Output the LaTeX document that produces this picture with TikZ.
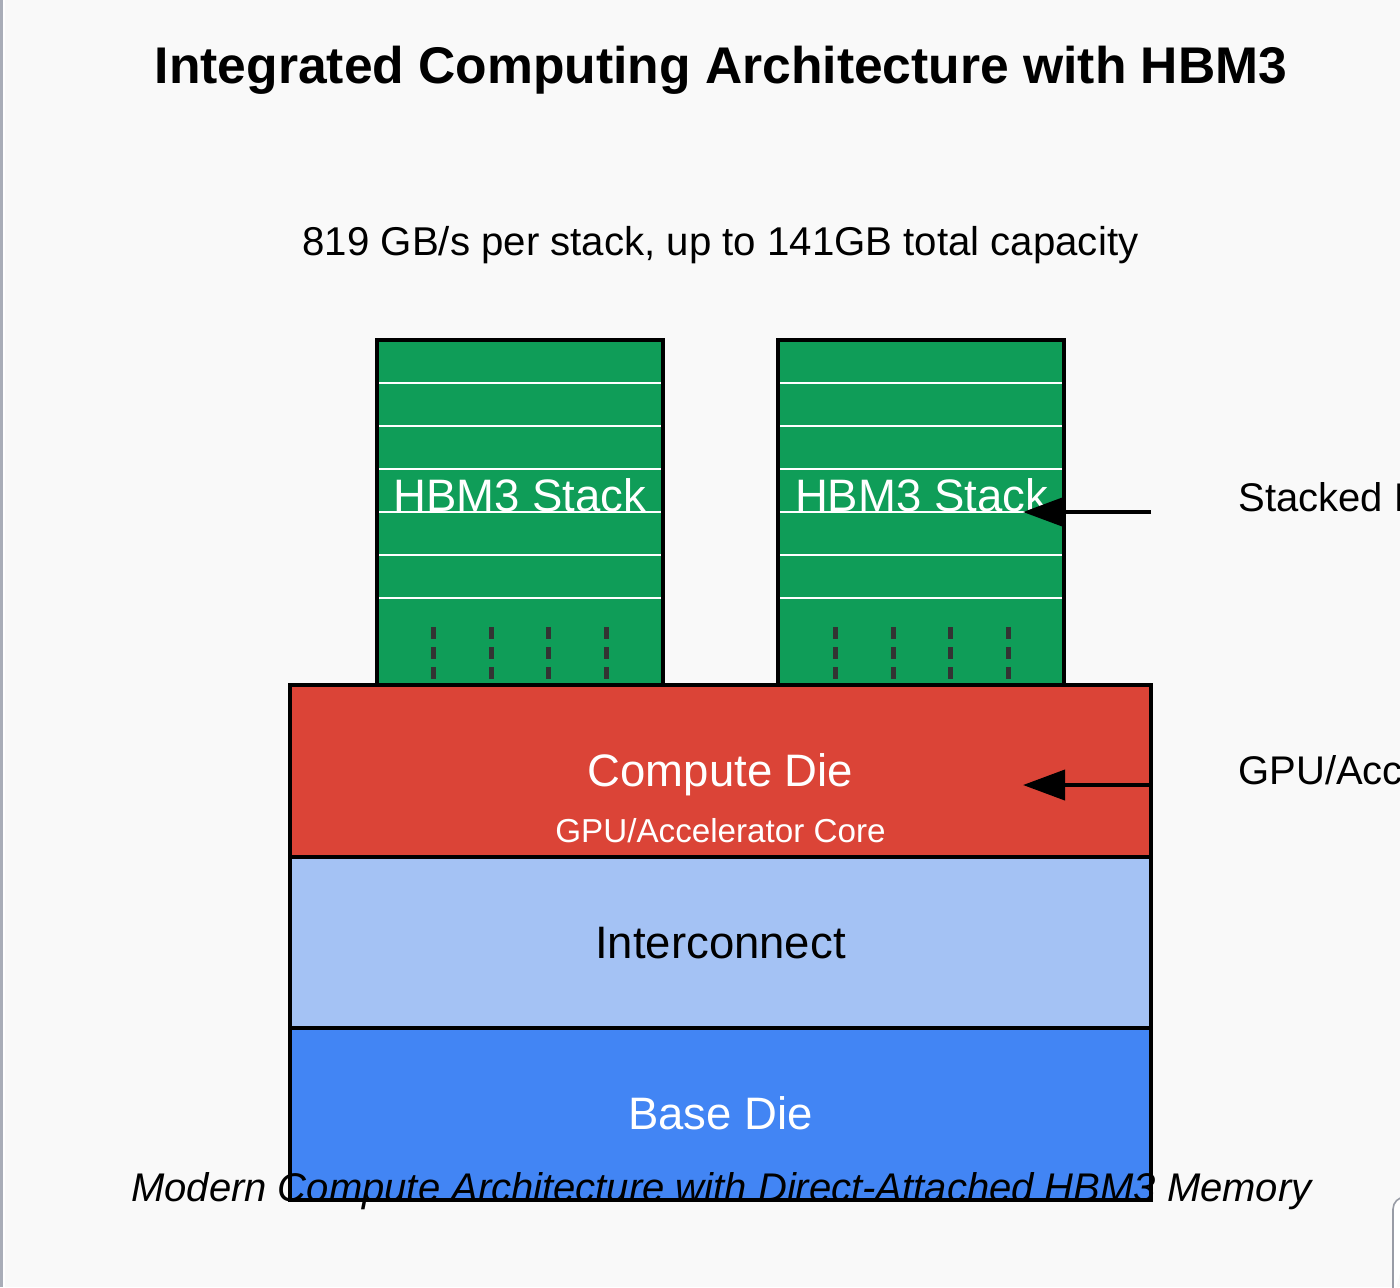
\documentclass[tikz,border=0pt]{standalone}
\usepackage{fontspec}
\setmainfont{Liberation Sans}
\usetikzlibrary{arrows.meta,calc}
\definecolor{bg}{HTML}{F9F9F9}
\definecolor{hgreen}{HTML}{0F9D58}
\definecolor{hred}{HTML}{DB4437}
\definecolor{lblue}{HTML}{A4C2F4}
\definecolor{dblue}{HTML}{4285F4}
\definecolor{dashgray}{HTML}{333333}
\definecolor{edgegray}{HTML}{A9ADB8}
\begin{document}
\begin{tikzpicture}[x=0.5pt,y=-0.5pt,
  stackbox/.style={draw=black,fill=hgreen,line width=2pt,inner sep=0pt,outer sep=0pt,anchor=north west,minimum width=143pt,minimum height=172.5pt},
  diebox/.style={draw=black,line width=2pt,inner sep=0pt,outer sep=0pt,anchor=north west,minimum width=430.5pt,minimum height=86pt},
  layerline/.style={draw=white,line width=1pt},
  tsv/.style={draw=dashgray,line width=2.5pt,dash pattern=on 6pt off 4pt},
  arr/.style={draw=black,line width=2pt,-{Triangle[length=21pt,width=15pt]}},
  bigtxt/.style={font=\fontsize{22.75pt}{26pt}\selectfont,anchor=base,inner sep=0pt},
  sidetxt/.style={font=\fontsize{20pt}{24pt}\selectfont,anchor=base west,inner sep=0pt}]
\useasboundingbox (0,0) rectangle (1400,1287);
\clip (0,0) rectangle (1400,1287);
\fill[bg] (0,0) rectangle (1400,1287);
\fill[edgegray] (0,0) rectangle (3,1287);
\fill[white] (3,0) rectangle (5,1287);
\draw[draw=edgegray!90!black,fill=white,line width=0.8pt,rounded corners=6pt] (1393,1300) -- (1393,1197) -- (1420,1197);

% title and subtitle
\node[font=\bfseries\fontsize{25.8pt}{30pt}\selectfont,anchor=base,inner sep=0pt] (title) at (721,83) {Integrated Computing Architecture with HBM3};
\node[font=\fontsize{20.1pt}{24pt}\selectfont,anchor=base,inner sep=0pt] (sub) at (720.5,255) {819 GB/s per stack, up to 141GB total capacity};

% HBM stacks
\node[stackbox] (hbmL) at (377,340) {};
\node[stackbox] (hbmR) at (778,340) {};
\node[bigtxt,text=white] (hbmLt) at (520,511) {HBM3 Stack};
\node[bigtxt,text=white] (hbmRt) at (921.5,511) {HBM3 Stack};
\foreach \y in {383,426,469,512,555,598} {
  \draw[layerline] ([xshift=1pt]hbmL.west |- 0,\y) -- ([xshift=-1pt]hbmL.east |- 0,\y);
  \draw[layerline] ([xshift=1pt]hbmR.west |- 0,\y) -- ([xshift=-1pt]hbmR.east |- 0,\y);
}
\foreach \dx in {56,114,171,229} {
  \draw[tsv] ($(hbmL.north west)+(\dx,287)$) -- ($(hbmL.north west)+(\dx,345)$);
  \draw[tsv] ($(hbmR.north west)+(\dx+1,287)$) -- ($(hbmR.north west)+(\dx+1,345)$);
}

% dies
\node[diebox,fill=hred] (compute) at (290,685) {};
\node[diebox,fill=lblue,minimum height=85.5pt] (inter) at (290,857) {};
\node[diebox,fill=dblue] (base) at (290,1028) {};
\node[bigtxt,text=white] (computet) at (720.5,786) {Compute Die};
\node[font=\fontsize{16.6pt}{20pt}\selectfont,anchor=base,inner sep=0pt,text=white] (computes) at (720.5,842) {GPU/Accelerator Core};
\node[bigtxt,text=black] (intert) at (720.5,958) {Interconnect};
\node[bigtxt,text=white] (baset) at (720.5,1129) {Base Die};

% side annotations
\coordinate (a1s) at (1151,512);
\coordinate (a1e) at (1023,512);
\coordinate (a2s) at (1150,785);
\coordinate (a2e) at (1023,785);
\draw[arr] (a1s) -- (a1e);
\draw[arr] (a2s) -- (a2e);
\node[sidetxt] (lab1) at (1238,511) {Stacked DRAM Layers};
\node[sidetxt] (lab2) at (1238,784) {GPU/Accelerator};

% caption
\node[font=\itshape\fontsize{20pt}{24pt}\selectfont,anchor=base,inner sep=0pt] (cap) at (721.5,1201) {Modern Compute Architecture with Direct-Attached HBM3 Memory};
\end{tikzpicture}
\end{document}
